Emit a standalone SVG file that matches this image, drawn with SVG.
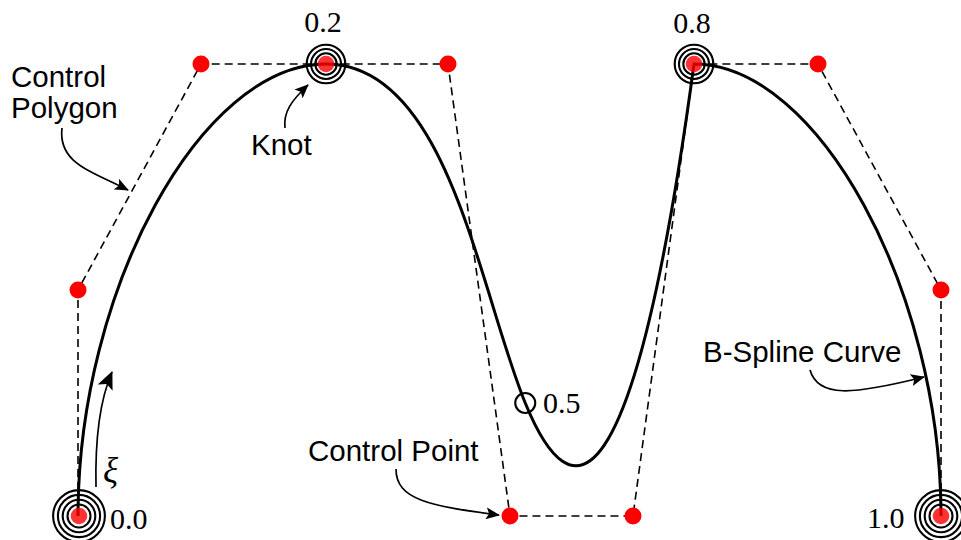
<svg xmlns="http://www.w3.org/2000/svg" width="961" height="540" viewBox="0 0 961 540">
<style>
.poly{fill:none;stroke:#000;stroke-width:1.6;stroke-dasharray:8,5}
.curve{fill:none;stroke:#000;stroke-width:3;stroke-linejoin:round}
.cp{fill:#ff0000}
.ring{fill:none;stroke:#000;stroke-width:2.1}
.kdot{fill:#ff0000;fill-opacity:0.8}
.arr{fill:none;stroke:#000;stroke-width:1.7}
.lbl{font-family:"Liberation Sans",Arial,sans-serif;font-size:29.5px;fill:#000}
.num{font-family:"Liberation Serif","Times New Roman",serif;font-size:30px;fill:#000}
</style>
<defs>
<marker id="ah" viewBox="0 0 14 12" markerUnits="userSpaceOnUse" markerWidth="14" markerHeight="12" refX="13" refY="6" orient="auto">
<path d="M0,0 L14,6 L0,12 L3,6 Z" fill="#000"/>
</marker>
<marker id="ahbig" viewBox="0 0 18 16" markerUnits="userSpaceOnUse" markerWidth="18" markerHeight="16" refX="17" refY="8" orient="auto">
<path d="M0,0 L18,8 L0,16 L4,8 Z" fill="#000"/>
</marker>
</defs>
<rect width="961" height="540" fill="#fff"/>
<g id="connectors">
<polyline id="control-polygon" class="poly" points="78,516 78,290 201,64 326,64 448,64 510,516 633,516 694,64 818,64 941,290 941,516"/>
<path id="bspline-curve" class="curve" d="M78,516 C78,290 201,64 326,64 C448,64 479,290 525.25,403 C571.5,516 633,516 694,64 C818,64 941,290 941,516"/>
<path id="arrow-xi" class="arr" stroke-width="2" d="M96,487 C95,440 99,402 112,372" marker-end="url(#ahbig)"/>
<path id="arrow-polygon" class="arr" d="M62,128 C58,162 88,170 128,190" marker-end="url(#ah)"/>
<path id="arrow-knot" class="arr" d="M285,128 C283,112 292,100 308,85" marker-end="url(#ah)"/>
<path id="arrow-point" class="arr" d="M396,469 C396,500 430,506 499,515" marker-end="url(#ah)"/>
<path id="arrow-curve" class="arr" d="M810,370 C818,398 852,395 924,377" marker-end="url(#ah)"/>
</g>
<g id="control-points">
<circle class="cp" cx="78" cy="290" r="8.5"/>
<circle class="cp" cx="201" cy="64" r="8.5"/>
<circle class="cp" cx="448" cy="64" r="8.5"/>
<circle class="cp" cx="510" cy="516" r="8.5"/>
<circle class="cp" cx="633" cy="516" r="8.5"/>
<circle class="cp" cx="818" cy="64" r="8.5"/>
<circle class="cp" cx="941" cy="290" r="8.5"/>
</g>
<g id="knot-0-0">
<circle class="ring" cx="79" cy="516" r="11.5"/>
<circle class="ring" cx="79" cy="516" r="16.3"/>
<circle class="ring" cx="79" cy="516" r="21.1"/>
<circle class="ring" cx="79" cy="516" r="25.9"/>
<circle class="kdot" cx="79" cy="516" r="8.3"/>
<text class="num" x="110" y="529">0.0</text>
</g>
<g id="knot-0-2">
<circle class="ring" cx="326" cy="64" r="10.7"/>
<circle class="ring" cx="326" cy="64" r="15"/>
<circle class="ring" cx="326" cy="64" r="19.3"/>
<circle class="kdot" cx="326" cy="64" r="8.3"/>
<text class="num" x="323" y="32" text-anchor="middle">0.2</text>
</g>
<g id="knot-0-5">
<circle class="ring" cx="525.25" cy="403" r="10"/>
<text class="num" x="543" y="413">0.5</text>
</g>
<g id="knot-0-8">
<circle class="ring" cx="694" cy="64" r="10.7"/>
<circle class="ring" cx="694" cy="64" r="15"/>
<circle class="ring" cx="694" cy="64" r="19.3"/>
<circle class="kdot" cx="694" cy="64" r="8.3"/>
<text class="num" x="692" y="33" text-anchor="middle">0.8</text>
</g>
<g id="knot-1-0">
<circle class="ring" cx="941" cy="516" r="11.5"/>
<circle class="ring" cx="941" cy="516" r="16.3"/>
<circle class="ring" cx="941" cy="516" r="21.1"/>
<circle class="ring" cx="941" cy="516" r="25.9"/>
<circle class="kdot" cx="941" cy="516" r="8.3"/>
<text class="num" x="867" y="528">1.0</text>
</g>
<g id="label-xi">
<text class="num" x="103" y="482" font-style="italic" font-size="35px" style="font-size:35px">ξ</text>
</g>
<g id="label-control-polygon">
<text class="lbl" x="11" y="87">Control</text>
<text class="lbl" x="11" y="118">Polygon</text>
</g>
<g id="label-knot">
<text class="lbl" x="251" y="155">Knot</text>
</g>
<g id="label-control-point">
<text class="lbl" x="308" y="461">Control Point</text>
</g>
<g id="label-bspline-curve">
<text class="lbl" x="703" y="362">B-Spline Curve</text>
</g>
</svg>
